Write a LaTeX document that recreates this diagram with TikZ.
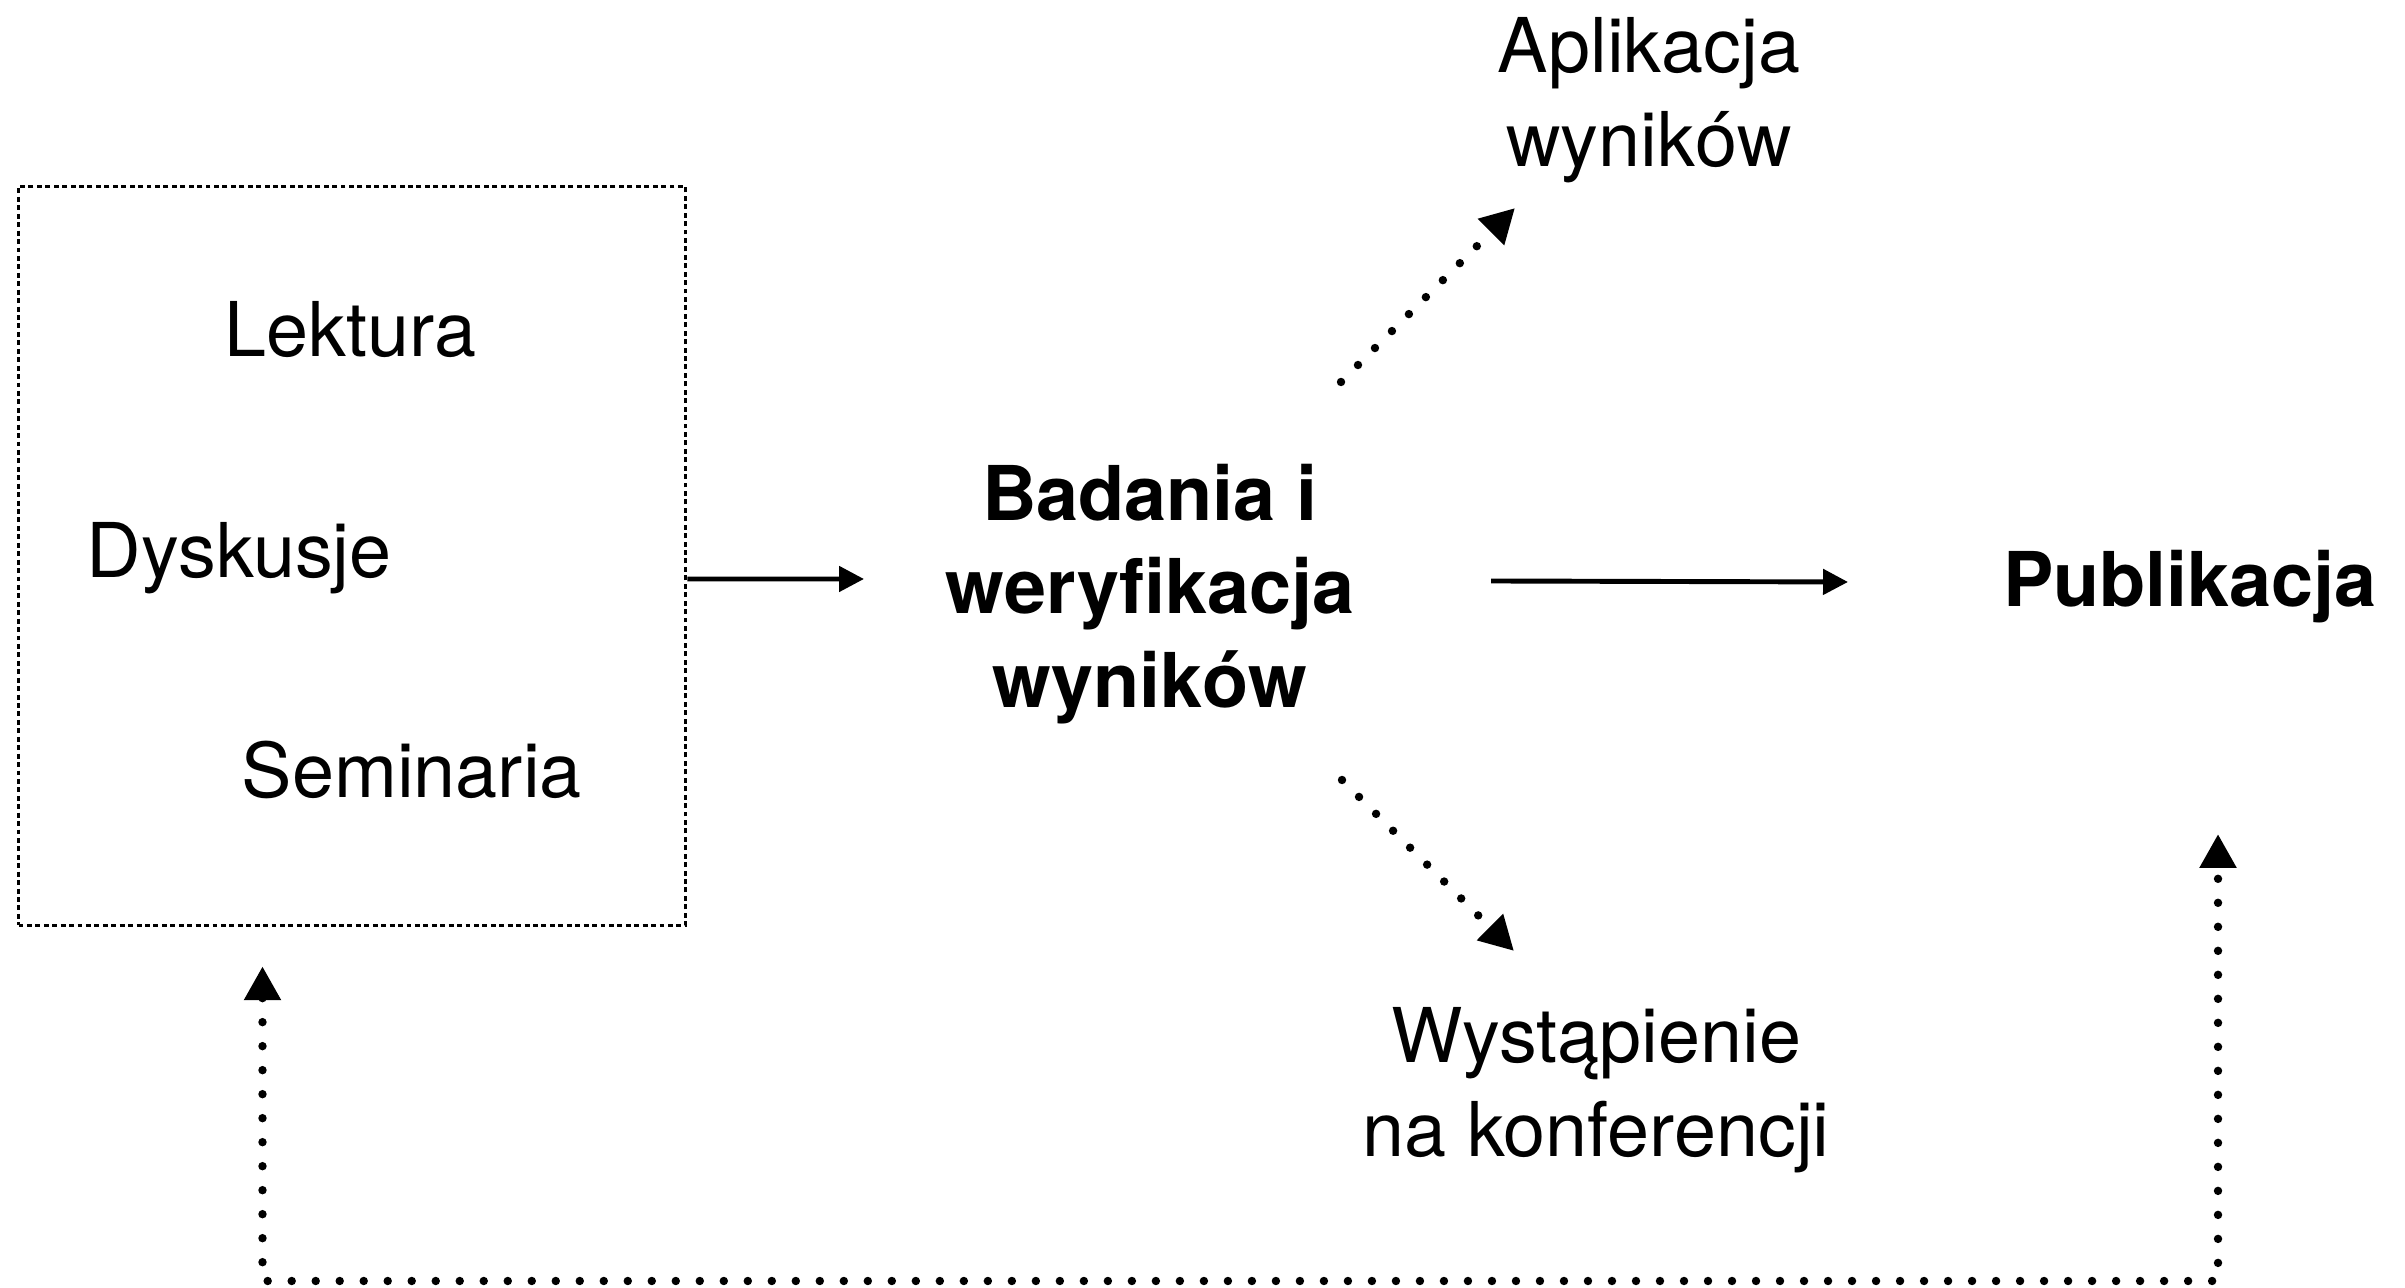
\documentclass[tikz,border=0pt]{standalone}
\usepackage{fontspec}
\setmainfont{TeX Gyre Heros}
\usetikzlibrary{arrows.meta}

\begin{document}
\begin{tikzpicture}
  \useasboundingbox (0,0) rectangle (24.05,12.88);
  \tikzstyle{txt}=[font=\fontsize{21.5}{26.6}\selectfont, inner sep=0pt, align=center]
  \tikzstyle{boldtxt}=[txt, font=\fontsize{21.5}{26.6}\selectfont\bfseries]
  \tikzstyle{solidarrow}=[line width=1.4pt, -{Triangle[length=2.5mm, width=2.5mm]}]
  \tikzstyle{dotline}=[line width=2.4pt, line cap=round, dash pattern=on 0pt off 6.83pt]
  \tikzstyle{dotarrow}=[dotline, -{Triangle[length=3.4mm, width=3.5mm]}]
  \tikzstyle{dotboth}=[dotline, {Triangle[length=3.4mm, width=3.5mm]}-{Triangle[length=3.4mm, width=3.5mm]}]
  % sources
  \node[draw, line width=1pt, dash pattern=on 1.4pt off 1pt,
        minimum width=6.67cm, minimum height=7.39cm, inner sep=0pt] (zrodla) at (3.52,7.32) {};
  \node[txt, anchor=base west] (lektura) at (2.24,9.31) {Lektura};
  \node[txt, anchor=base west] (dyskusje) at (0.86,7.10) {Dyskusje};
  \node[txt, anchor=base west] (seminaria) at (2.41,4.90) {Seminaria};
  % work and results
  \node[boldtxt] (badania) at (11.50,6.94) {Badania i\\weryfikacja\\wyników};
  \node[boldtxt, anchor=base] (publikacja) at (21.90,6.81) {Publikacja};
  \node[txt] (aplikacja) at (16.49,11.88) {Aplikacja\\wyników};
  \node[txt] (wystapienie) at (15.96,1.98) {Wystąpienie\\na konferencji};
  % main arrows
  \draw[solidarrow] ([yshift=-0.23cm]zrodla.east) -- ([shift={(-2.86,0.15)}]badania.center);
  \draw[solidarrow] ([shift={(3.41,0.13)}]badania.center) -- ([shift={(-3.42,0.25)}]publikacja.base);
  % side arrows
  \draw[dotarrow] ([shift={(1.91,2.12)}]badania.center) -- ([shift={(-1.34,-1.08)}]aplikacja.center);
  \draw[dotarrow] ([shift={(1.92,-1.86)}]badania.center) -- ([shift={(-0.82,1.39)}]wystapienie.center);
  % feedback loop
  \coordinate (dol) at (12,0.07);
  \draw[dotboth] ([shift={(-0.895,-0.39)}]zrodla.south) |- (dol) -| ([shift={(0.28,-2.27)}]publikacja.base);
\end{tikzpicture}
\end{document}
